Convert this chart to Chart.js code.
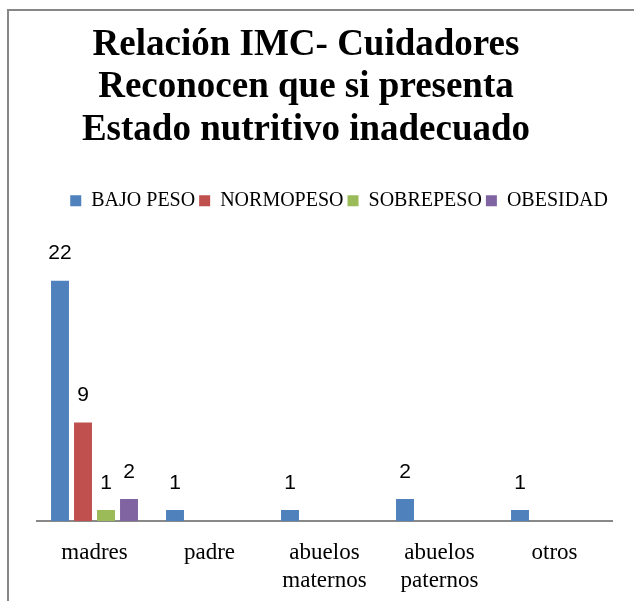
<!DOCTYPE html>
<html>
<head>
<meta charset="utf-8">
<title>Relación IMC- Cuidadores</title>
<script src="https://cdn.jsdelivr.net/npm/chart.js@4"></script>
<style>
  body { margin: 0; background: #fff; }
  #frame { position: absolute; left: 7px; top: 9px; width: 700px; height: 700px; border: 2px solid #878787; }
  #chart { position: absolute; left: 0; top: 0; }
</style>
</head>
<body>
<div id="frame"></div>
<canvas id="chart" width="634" height="601"></canvas>
<script>
// categories and series
const categories = ['madres', 'padre', ['abuelos', 'maternos'], ['abuelos', 'paternos'], 'otros'];
const bajoPeso = [22, 1, 1, 2, 1];
const normopeso = [9, 0, 0, 0, 0];
const sobrepeso = [1, 0, 0, 0, 0];
const obesidad = [2, 0, 0, 0, 0];
const titleLines = ['Relación IMC- Cuidadores', 'Reconocen que si presenta', 'Estado nutritivo inadecuado'];

const serif = '"Liberation Serif", "Times New Roman", serif';

// value labels above the bars (no datalabels plugin offline)
const barLabels = {
  id: 'barLabels',
  afterDatasetsDraw(chart) {
    const ctx = chart.ctx;
    ctx.save();
    ctx.font = '21px "Liberation Sans", Arial, sans-serif';
    ctx.fillStyle = '#000';
    ctx.textAlign = 'center';
    ctx.textBaseline = 'middle';
    chart.data.datasets.forEach((ds, i) => {
      chart.getDatasetMeta(i).data.forEach((bar, j) => {
        const v = ds.data[j];
        if (!v) return;
        ctx.fillText(String(v), bar.x, bar.y - 27);
      });
    });
    ctx.restore();
  }
};

const ctx = document.getElementById('chart').getContext('2d');
const chart = new Chart(ctx, {
  type: 'bar',
  data: {
    labels: categories,
    datasets: [
      { label: 'BAJO PESO', data: bajoPeso, backgroundColor: '#4F81BD' },
      { label: 'NORMOPESO', data: normopeso, backgroundColor: '#C0504D' },
      { label: 'SOBREPESO', data: sobrepeso, backgroundColor: '#9BBB59' },
      { label: 'OBESIDAD', data: obesidad, backgroundColor: '#8064A2' }
    ]
  },
  options: {
    responsive: false,
    animation: false,
    devicePixelRatio: 1,
    categoryPercentage: 0.8,
    barPercentage: 0.78,
    layout: { padding: { left: 0, right: 22, top: 0, bottom: -12 } },
    plugins: {
      title: {
        display: true,
        text: titleLines,
        color: '#000',
        font: { family: serif, size: 37, weight: 'bold', lineHeight: 1.15 },
        padding: { top: 24, bottom: 35 }
      },
      legend: {
        display: true,
        position: 'top',
        align: 'end',
        labels: {
          color: '#000',
          boxWidth: 11,
          boxHeight: 11,
          padding: 4,
          font: { family: serif, size: 20 }
        }
      },
      tooltip: { enabled: false }
    },
    scales: {
      x: {
        grid: { display: false, drawTicks: false },
        border: { display: true, color: '#888', width: 2 },
        ticks: {
          color: '#000',
          padding: 18,
          maxRotation: 0,
          autoSkip: false,
          font: { family: serif, size: 23, lineHeight: 1.22 }
        }
      },
      y: {
        display: true,
        min: 0,
        max: 27.5,
        grid: { display: false },
        border: { display: false },
        ticks: { display: false },
        afterFit(scale) { scale.width = 37; }
      }
    }
  },
  plugins: [barLabels]
});
</script>
</body>
</html>
